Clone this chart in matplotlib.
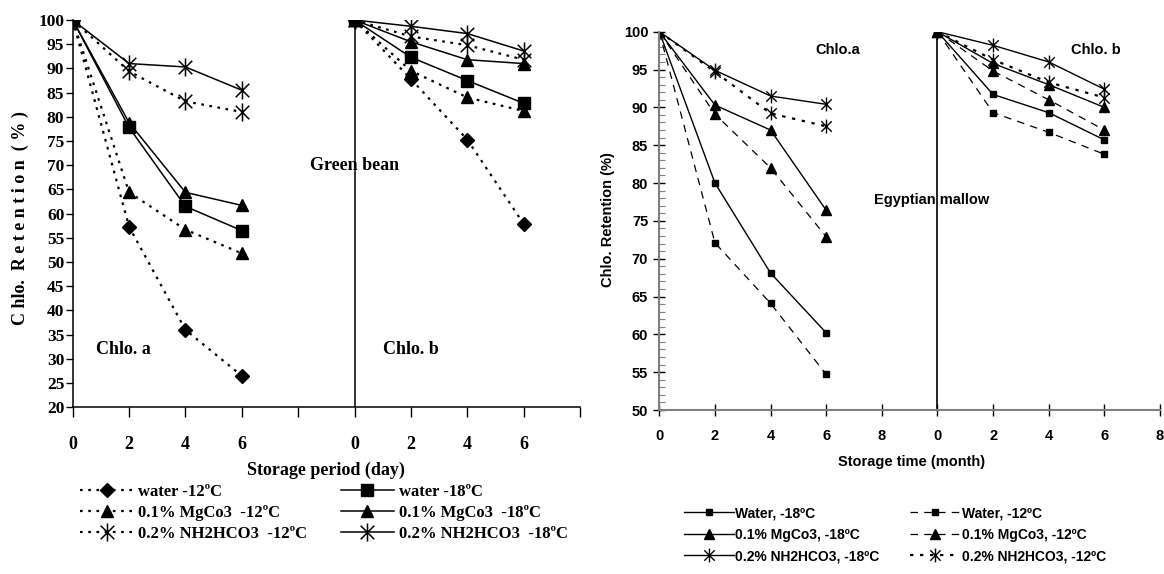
import numpy as np
import matplotlib
matplotlib.use('Agg')
import matplotlib.pyplot as plt
from matplotlib.path import Path


# ---- Green bean (storage period, days) ----
gb_days = [0, 2, 4, 6]
gb_a_water12 = [100, 57.3, 36.0, 26.5]
gb_a_water18 = [100, 77.8, 61.5, 56.5]
gb_a_mg12 = [100, 64.4, 56.7, 51.8]
gb_a_mg18 = [100, 78.8, 64.4, 61.7]
gb_a_nh12 = [100, 89.4, 83.2, 81.0]
gb_a_nh18 = [100, 91.0, 90.3, 85.5]

gb_b_water12 = [100, 87.8, 75.3, 57.9]
gb_b_water18 = [100, 92.3, 87.5, 82.8]
gb_b_mg12 = [100, 89.5, 84.0, 81.2]
gb_b_mg18 = [100, 95.5, 91.8, 91.0]
gb_b_nh12 = [100, 96.6, 94.8, 91.8]
gb_b_nh18 = [100, 98.7, 97.2, 93.6]

# ---- Egyptian mallow (storage time, months) ----
em_months = [0, 2, 4, 6]
em_a_water18 = [100, 80.0, 68.1, 60.2]
em_a_water12 = [100, 72.1, 64.1, 54.7]
em_a_mg18 = [100, 90.3, 87.0, 76.4]
em_a_mg12 = [100, 89.1, 82.0, 72.9]
em_a_nh18 = [100, 94.9, 91.5, 90.4]
em_a_nh12 = [100, 94.7, 89.2, 87.5]

em_b_water18 = [100, 91.7, 89.3, 85.7]
em_b_water12 = [100, 89.3, 86.7, 83.8]
em_b_mg18 = [100, 95.8, 93.0, 90.0]
em_b_mg12 = [100, 94.8, 91.0, 87.0]
em_b_nh18 = [100, 98.2, 96.0, 92.4]
em_b_nh12 = [100, 96.3, 93.3, 91.3]

gb_labels = ['water -12\u00baC', '0.1% MgCo3  -12\u00baC', '0.2% NH2HCO3  -12\u00baC',
             'water -18\u00baC', '0.1% MgCo3  -18\u00baC', '0.2% NH2HCO3  -18\u00baC']
em_labels = ['Water, -18\u00baC', '0.1% MgCo3, -18\u00baC', '0.2% NH2HCO3, -18\u00baC',
             'Water, -12\u00baC', '0.1% MgCo3, -12\u00baC', '0.2% NH2HCO3, -12\u00baC']

gb_ticklabels = ['0', '2', '4', '6', '', '0', '2', '4', '6', '']
em_ticklabels = ['0', '2', '4', '6', '8', '0', '2', '4', '6', '8']

OFFSET = 10  # chlo. b group is drawn to the right of the divider

# asterisk marker like excel's (x with a vertical bar)
star = Path([(0, -1), (0, 1), (-0.75, -0.75), (0.75, 0.75), (-0.75, 0.75), (0.75, -0.75)],
            [Path.MOVETO, Path.LINETO] * 3)

W, H = 1164, 574
fig = plt.figure(figsize=(W / 100, H / 100), dpi=100)

serif = 'Liberation Serif'
sans = 'Liberation Sans'

# ================= left panel =================
ax1 = fig.add_axes([72.7 / W, 1 - 407.3 / H, (580 - 72.7) / W, (407.3 - 20) / H])

dot = dict(color='black', linestyle=(0, (1.2, 2.5)), linewidth=1.6)
sol = dict(color='black', linestyle='-', linewidth=1.1)

left_specs = [
    (gb_a_water12, gb_b_water12, dot, dict(marker='D', ms=7)),
    (gb_a_mg12, gb_b_mg12, dot, dict(marker='^', ms=9)),
    (gb_a_nh12, gb_b_nh12, dot, dict(marker=star, ms=13, mfc='none', mew=1.1)),
    (gb_a_water18, gb_b_water18, sol, dict(marker='s', ms=8)),
    (gb_a_mg18, gb_b_mg18, sol, dict(marker='^', ms=9)),
    (gb_a_nh18, gb_b_nh18, sol, dict(marker=star, ms=13, mfc='none', mew=1.1)),
]
handles1 = []
for ya, yb, ls, mk in left_specs:
    h, = ax1.plot(gb_days, ya, mec='black', **ls, **mk)
    ax1.plot([d + OFFSET for d in gb_days], yb, mec='black', **ls, **mk)
    handles1.append(h)

ax1.plot([OFFSET, OFFSET], [20, 100], color='black', lw=1.1, zorder=1)

ax1.set_xlim(0, 18)
ax1.set_ylim(20, 100)
ax1.set_xticks(np.arange(0, 19, 2))
ax1.set_xticklabels(gb_ticklabels)
ax1.set_yticks(np.arange(20, 101, 5))
ax1.spines['top'].set_visible(False)
ax1.spines['right'].set_visible(False)
for s in ('left', 'bottom'):
    ax1.spines[s].set_linewidth(1.1)
ax1.tick_params(axis='x', direction='out', length=7, width=1, pad=14, labelsize=13)
ax1.tick_params(axis='y', direction='out', length=5, width=1, pad=1, labelsize=12.5)
for lab in ax1.get_xticklabels() + ax1.get_yticklabels():
    lab.set_fontfamily(serif)
    lab.set_fontweight('bold')

ax1.text(1.8, 32, 'Chlo. a', ha='center', va='center', family=serif, weight='bold', size=13)
ax1.text(12, 32, 'Chlo. b', ha='center', va='center', family=serif, weight='bold', size=13)
ax1.text(OFFSET, 70, 'Green bean', ha='center', va='center', family=serif, weight='bold', size=13)

fig.text(20 / W, 1 - 218 / H, 'C hlo.  R e t e n t i o n  ( % )', rotation=90,
         ha='center', va='center', family=serif, weight='bold', size=13)
fig.text(326 / W, 1 - 470 / H, 'Storage period (day)', ha='center', va='center',
         family=serif, weight='bold', size=13)

fig.legend(handles1, gb_labels, ncol=2, loc='upper left',
           bbox_to_anchor=(80 / W, 1 - 484 / H), frameon=False, borderpad=0,
           borderaxespad=0, handlelength=3.2, handletextpad=0.3, columnspacing=2.0,
           labelspacing=0.3, prop=dict(family=serif, weight='bold', size=12))

# ================= right panel =================
ax2 = fig.add_axes([659.3 / W, 1 - 410 / H, (1160 - 659.3) / W, (410 - 31.7) / H])

sol2 = dict(color='black', linestyle='-', linewidth=1.0)
dash2 = dict(color='black', linestyle=(0, (6, 5)), linewidth=0.9)
dot2 = dict(color='black', linestyle=(0, (1.5, 3)), linewidth=1.6)

right_specs = [
    (em_a_water18, em_b_water18, sol2, dict(marker='s', ms=5)),
    (em_a_mg18, em_b_mg18, sol2, dict(marker='^', ms=6.5)),
    (em_a_nh18, em_b_nh18, sol2, dict(marker=star, ms=10, mfc='none', mew=1.0)),
    (em_a_water12, em_b_water12, dash2, dict(marker='s', ms=5)),
    (em_a_mg12, em_b_mg12, dash2, dict(marker='^', ms=6.5)),
    (em_a_nh12, em_b_nh12, dot2, dict(marker=star, ms=10, mfc='none', mew=1.0)),
]
handles2 = []
for ya, yb, ls, mk in right_specs:
    h, = ax2.plot(em_months, ya, mec='black', **ls, **mk)
    ax2.plot([m + OFFSET for m in em_months], yb, mec='black', **ls, **mk)
    handles2.append(h)

ax2.plot([OFFSET, OFFSET], [50, 100], color='black', lw=1.2, zorder=1)

ax2.set_xlim(0, 18)
ax2.set_ylim(50, 100)
ax2.set_xticks(np.arange(0, 19, 2))
ax2.set_xticklabels(em_ticklabels)
ax2.set_yticks(np.arange(50, 101, 5))
ax2.set_yticks(np.arange(50, 101, 1), minor=True)
ax2.spines['top'].set_visible(False)
ax2.spines['right'].set_visible(False)
for s in ('left', 'bottom'):
    ax2.spines[s].set_color('#7f7f7f')
    ax2.spines[s].set_linewidth(1.5)
ax2.tick_params(axis='x', direction='inout', length=8, width=1, pad=10, labelsize=10.5)
ax2.tick_params(axis='y', which='major', direction='inout', length=8, width=1, pad=4, labelsize=10.5)
ax2.tick_params(axis='y', which='minor', direction='in', length=4, width=0.8, color='#7f7f7f')
for lab in ax2.get_xticklabels() + ax2.get_yticklabels():
    lab.set_fontfamily(sans)
    lab.set_fontweight('bold')

ax2.text(6.4, 97.6, 'Chlo.a', ha='center', va='center', family=sans, weight='bold', size=10.5)
ax2.text(15.7, 97.6, 'Chlo. b', ha='center', va='center', family=sans, weight='bold', size=10.5)
ax2.text(OFFSET - 0.2, 77.8, 'Egyptian mallow', ha='center', va='center', family=sans,
         weight='bold', size=10.5)

fig.text(608 / W, 1 - 220 / H, 'Chlo. Retention (%)', rotation=90, ha='center',
         va='center', family=sans, weight='bold', size=10.5)
fig.text(912 / W, 1 - 462 / H, 'Storage time (month)', ha='center', va='center',
         family=sans, weight='bold', size=10.5)

fig.legend(handles2, em_labels, ncol=2, loc='upper left',
           bbox_to_anchor=(684 / W, 1 - 506 / H), frameon=False, borderpad=0,
           borderaxespad=0, handlelength=3.6, handletextpad=0.1, columnspacing=2.2,
           labelspacing=0.55, prop=dict(family=sans, weight='bold', size=10))

fig.savefig('out.png', dpi=100)
